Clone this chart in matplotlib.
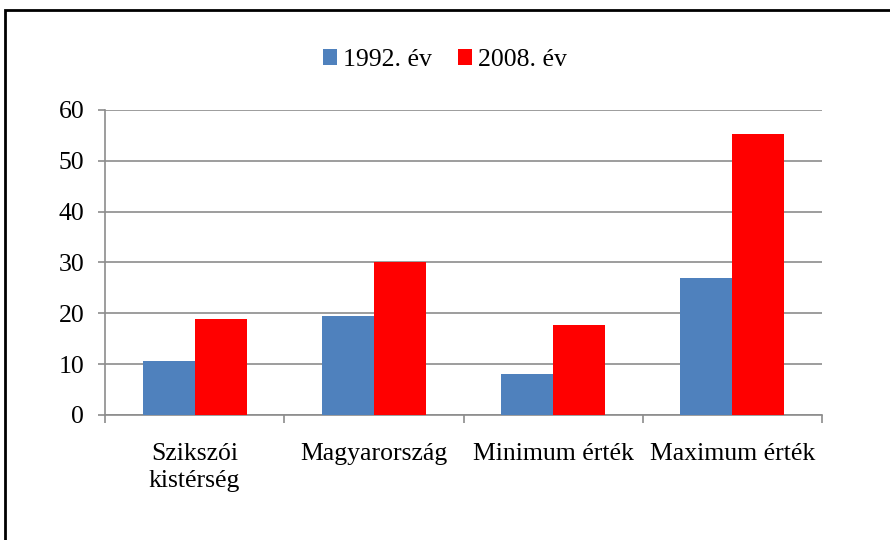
import numpy as np
import matplotlib.pyplot as plt
from matplotlib.patches import Rectangle

plt.rcParams['font.family'] = ['Liberation Serif', 'DejaVu Serif']

# Adatok
categories = ["Szikszói\nkistérség", "Magyarország", "Minimum érték", "Maximum érték"]
series_labels = ["1992. év", "2008. év"]
values_1992 = [10.6, 19.5, 8.1, 27.0]
values_2008 = [18.8, 30.0, 17.7, 55.3]
colors = ["#4f81bd", "#ff0000"]

fig = plt.figure(figsize=(8.9, 5.4), dpi=100)
ax = fig.add_axes([0.118, 0.2315, 0.8056, 0.5648])

x = np.arange(len(categories))
w = 0.29
b1 = ax.bar(x - w / 2, values_1992, w, color=colors[0], label=series_labels[0], zorder=3)
b2 = ax.bar(x + w / 2, values_2008, w, color=colors[1], label=series_labels[1], zorder=3)

ax.set_xlim(-0.5, len(categories) - 0.5)
ax.set_ylim(0, 60)
ax.set_yticks(range(0, 61, 10))
ax.yaxis.grid(True, color="#8c8c8c", linewidth=1.2, zorder=0)

# kategóriahatárok jelölése
ax.set_xticks(np.arange(-0.5, len(categories), 1.0))
ax.set_xticklabels([])
ax.set_xticks(x, minor=True)
ax.set_xticklabels(categories, minor=True, fontsize=18.5, linespacing=1.3)
ax.tick_params(axis="x", which="minor", length=0, pad=20)
ax.tick_params(axis="x", which="major", length=6, color="#8c8c8c", width=1.2)
ax.tick_params(axis="y", length=5, color="#8c8c8c", width=1.2, labelsize=18.5, pad=10)

for s in ["top", "right"]:
    ax.spines[s].set_visible(False)
for s in ["left", "bottom"]:
    ax.spines[s].set_color("#8c8c8c")
    ax.spines[s].set_linewidth(1.2)

fig.legend(handles=[b1, b2], labels=series_labels, loc="center",
           bbox_to_anchor=(0.5, 1 - 60 / 540), ncol=2, frameon=False,
           fontsize=18.5, handlelength=0.55, handleheight=0.55,
           handletextpad=0.25, columnspacing=1.0)

# keret
fig.patches.append(Rectangle((5 / 890, -0.1), 1.2, 1 - 10 / 540 + 0.1,
                             transform=fig.transFigure, fill=False,
                             edgecolor="black", linewidth=2))

fig.savefig("out.png", dpi=100)
